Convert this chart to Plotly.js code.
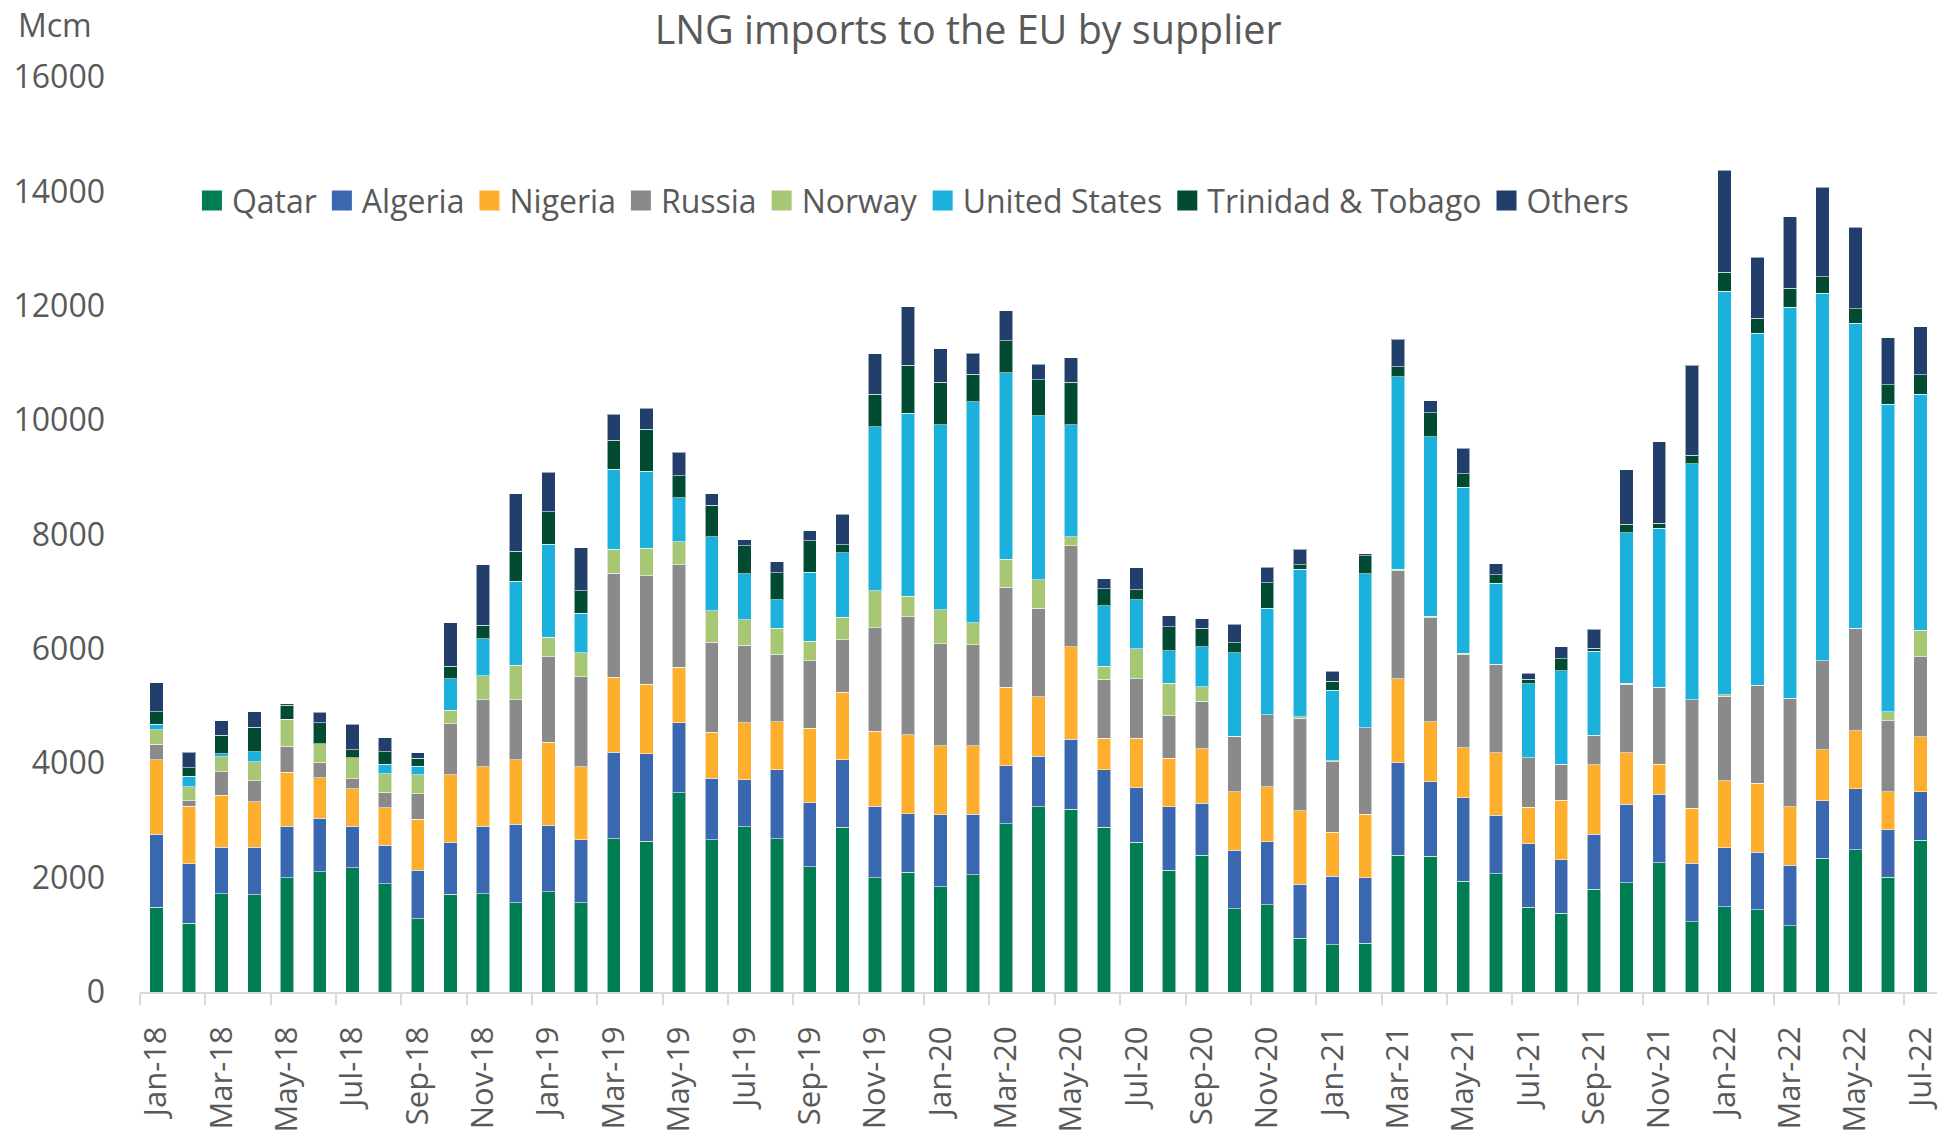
<!DOCTYPE html>
<html>
<head>
<meta charset="utf-8">
<script src="https://cdn.plot.ly/plotly-3.0.1.min.js"></script>
<style>
  html, body { margin: 0; padding: 0; background: #ffffff; }
  #chart { width: 1944px; height: 1132px; }
</style>
</head>
<body>
<div id="chart"></div>
<script>
const months = ["Jan-18","Feb-18","Mar-18","Apr-18","May-18","Jun-18","Jul-18","Aug-18","Sep-18","Oct-18","Nov-18","Dec-18",
  "Jan-19","Feb-19","Mar-19","Apr-19","May-19","Jun-19","Jul-19","Aug-19","Sep-19","Oct-19","Nov-19","Dec-19",
  "Jan-20","Feb-20","Mar-20","Apr-20","May-20","Jun-20","Jul-20","Aug-20","Sep-20","Oct-20","Nov-20","Dec-20",
  "Jan-21","Feb-21","Mar-21","Apr-21","May-21","Jun-21","Jul-21","Aug-21","Sep-21","Oct-21","Nov-21","Dec-21",
  "Jan-22","Feb-22","Mar-22","Apr-22","May-22","Jun-22","Jul-22"];

const qatar = [1480,1200,1720,1700,2000,2100,2170,1890,1280,1710, 1720,1560,1750,1560,2680,2640,3480,2660,2890,2680,
  2190,2880,2000,2090,1840,2050,2940,3240,3200,2880, 2620,2130,2390,1460,1530,940,830,850,2390,2370,
  1940,2070,1480,1380,1800,1910,2260,1230,1490,1440, 1160,2340,2490,2010,2650];
const algeria = [1280,1040,810,830,900,940,730,680,850,910, 1180,1370,1170,1100,1510,1530,1230,1080,820,1210,
  1120,1180,1250,1030,1260,1060,1020,880,1220,1010, 950,1110,910,1020,1100,940,1190,1150,1620,1310,
  1460,1020,1110,930,960,1370,1200,1020,1030,1000, 1060,1000,1060,830,850];
const nigeria = [1300,1010,910,800,940,710,650,650,890,1180, 1040,1130,1450,1280,1310,1210,970,800,1000,840,
  1300,1180,1310,1380,1210,1200,1370,1040,1620,550, 870,850,950,1020,960,1290,770,1110,1470,1050,
  870,1090,640,1040,1210,900,520,960,1170,1210, 1020,900,1020,660,960];
const russia = [270,90,410,360,460,270,180,270,450,890, 1170,1050,1490,1570,1820,1900,1790,1580,1350,1180,
  1180,920,1810,2060,1780,1760,1750,1550,1760,1030, 1040,740,830,970,1260,1620,1240,1510,1890,1810,
  1630,1550,870,630,510,1200,1350,1900,1480,1710, 1900,1550,1790,1240,1400];
const norway = [260,250,260,340,470,320,370,330,330,240, 420,600,340,420,420,480,400,550,450,450,
  340,390,650,360,590,390,490,500,160,230, 520,570,260,0,0,20,10,0,20,30,
  20,0,0,0,10,20,0,0,30,0, 0,0,0,160,470];
const unitedStates = [90,180,60,170,0,0,0,160,150,550, 650,1470,1630,690,1400,1350,770,1290,800,500,
  1210,1130,2860,3200,3240,3860,3260,2870,1960,1050, 860,570,700,1460,1860,2580,1240,2690,3370,3140,
  2910,1420,1290,1640,1470,2630,2780,4130,7050,6160, 6830,6430,5330,5380,4120];
const trinidad = [220,150,320,430,240,370,140,220,140,220, 230,530,570,400,510,730,390,550,490,470,
  550,140,570,840,740,480,560,630,740,300, 170,420,320,180,450,80,150,320,170,420,
  230,150,80,210,50,150,90,150,340,260, 340,290,260,340,340];
const others = [510,270,250,270,30,180,440,250,90,760, 1060,1000,690,750,450,370,410,200,110,190,
  180,530,710,1020,590,370,520,270,430,180, 390,190,170,320,270,270,180,30,480,210,
  450,190,100,210,330,950,1420,1570,1780,1070, 1250,1560,1420,820,840];

const seriesNames = ["Qatar","Algeria","Nigeria","Russia","Norway","United States","Trinidad & Tobago","Others"];
const seriesValues = [qatar, algeria, nigeria, russia, norway, unitedStates, trinidad, others];
const seriesColors = ["#017D52","#3A68B0","#FDAE2C","#8A8A8A","#A8C775","#1CB0DC","#014B33","#223F6B"];

const yTicks = [0,2000,4000,6000,8000,10000,12000,14000,16000];

const xPos = months.map((m, i) => i);
const labelIdx = xPos.filter(i => i % 2 === 0);

const FONT = "'Open Sans', 'Noto Sans', sans-serif";
const GREY = "#595959";

const barTraces = seriesNames.map((name, k) => ({
  type: "bar",
  name: name,
  legendgroup: name,
  showlegend: false,
  x: xPos,
  y: seriesValues[k],
  text: months,
  hovertemplate: "%{text}: %{y}<extra>" + name + "</extra>",
  textposition: "none",
  marker: { color: seriesColors[k], line: { color: "rgba(255,255,255,0.55)", width: 1 } }
}));

// legend-only entries (no data drawn) giving Excel-like large square keys
const legendTraces = seriesNames.map((name, k) => ({
  type: "scatter",
  mode: "markers",
  name: name,
  legendgroup: name,
  showlegend: true,
  x: [null],
  y: [null],
  hoverinfo: "skip",
  marker: { symbol: "square", size: 16, color: seriesColors[k], line: { width: 4, color: seriesColors[k] } }
}));

const layout = {
  width: 1944,
  height: 1132,
  paper_bgcolor: "#ffffff",
  plot_bgcolor: "#ffffff",
  font: { family: FONT, color: GREY, size: 32 },
  margin: { l: 140, r: 7, t: 77, b: 140, pad: 0 },
  barmode: "stack",
  bargap: 0.59,
  showlegend: true,
  title: {
    text: "LNG imports to the EU by supplier",
    font: { family: FONT, size: 39.5, color: GREY },
    xref: "container", x: 0.498, xanchor: "center",
    yref: "container", y: 0.973, yanchor: "middle"
  },
  xaxis: {
    range: [-0.5, 54.5],
    tickmode: "array",
    tickvals: labelIdx,
    ticktext: labelIdx.map(i => months[i]),
    tickangle: -90,
    ticks: "",
    ticklabelstandoff: 20,
    showline: true, linecolor: "#d9d9d9", linewidth: 2,
    showgrid: false, zeroline: false,
    tickfont: { family: FONT, size: 31, color: GREY },
    minor: { tickmode: "linear", tick0: -0.5, dtick: 2, ticks: "outside", ticklen: 11, tickwidth: 2, tickcolor: "#d9d9d9", showgrid: false }
  },
  yaxis: {
    range: [0, 16000],
    tickmode: "array",
    tickvals: yTicks,
    ticktext: yTicks.map(String),
    ticks: "",
    ticklabelstandoff: 34,
    showline: false, showgrid: false, zeroline: false,
    tickfont: { family: FONT, size: 32, color: GREY }
  },
  legend: {
    orientation: "h",
    x: 0.0289, xanchor: "left",
    y: 0.895, yanchor: "top",
    font: { family: FONT, size: 32, color: GREY },
    bgcolor: "rgba(0,0,0,0)",
    traceorder: "normal",
    itemclick: false
  },
  annotations: [{
    text: "Mcm",
    xref: "paper", yref: "paper",
    x: -0.069, y: 1.057, xanchor: "left", yanchor: "middle",
    showarrow: false,
    font: { family: FONT, size: 32, color: GREY }
  }]
};

Plotly.newPlot("chart", barTraces.concat(legendTraces), layout, { displayModeBar: false, staticPlot: true });
</script>
</body>
</html>
